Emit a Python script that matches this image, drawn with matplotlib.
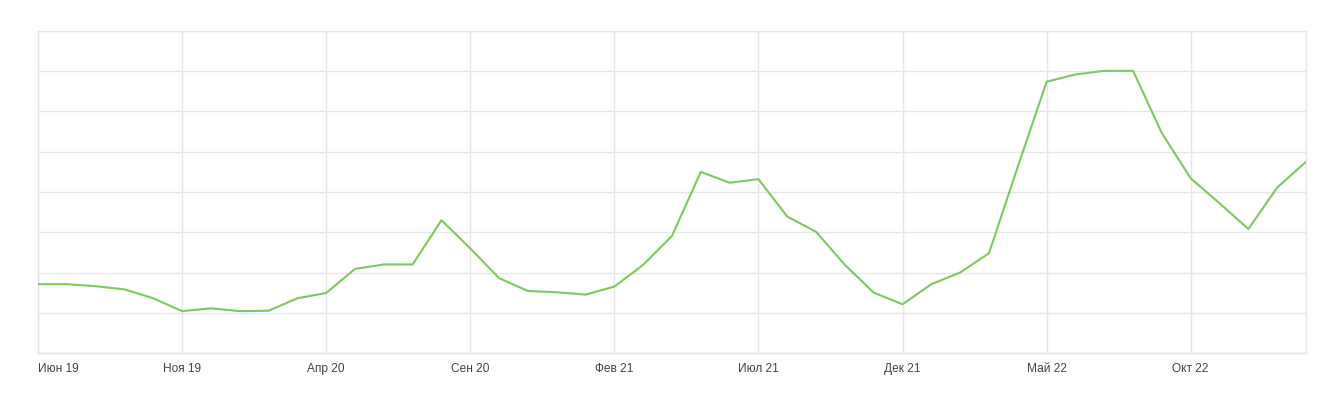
import matplotlib
matplotlib.use("Agg")
import matplotlib.pyplot as plt
import numpy as np

# monthly values, Jun 2019 .. Feb 2023 (y axis has no labels, units arbitrary)
months = ["Июн 19", "Июл 19", "Авг 19", "Сен 19", "Окт 19", "Ноя 19", "Дек 19",
          "Янв 20", "Фев 20", "Мар 20", "Апр 20", "Май 20", "Июн 20", "Июл 20",
          "Авг 20", "Сен 20", "Окт 20", "Ноя 20", "Дек 20", "Янв 21", "Фев 21",
          "Мар 21", "Апр 21", "Май 21", "Июн 21", "Июл 21", "Авг 21", "Сен 21",
          "Окт 21", "Ноя 21", "Дек 21", "Янв 22", "Фев 22", "Мар 22", "Апр 22",
          "Май 22", "Июн 22", "Июл 22", "Авг 22", "Сен 22", "Окт 22", "Ноя 22",
          "Дек 22", "Янв 23", "Фев 23"]
values = [17.1, 17.1, 16.6, 15.8, 13.6, 10.4, 11.1, 10.4, 10.5, 13.6,
          14.9, 20.9, 22.0, 22.0, 33.0, 26.0, 18.6, 15.4, 15.1, 14.5,
          16.5, 21.9, 29.1, 45.0, 42.3, 43.2, 33.9, 30.1, 21.9, 15.0,
          12.1, 17.1, 20.0, 24.8, 46.3, 67.4, 69.2, 70.1, 70.1, 54.6,
          43.4, 37.2, 30.8, 41.1, 47.5]
tick_step = 5

fig = plt.figure(figsize=(13.4, 4.07), dpi=100)
ax = fig.add_axes([38 / 1340, 54 / 407, 1268 / 1340, 322 / 407])

x = np.arange(len(values))
ax.plot(x, values, color="#7cc95c", lw=1.5, zorder=3)

ax.set_xlim(0, len(values) - 1)
ax.set_ylim(0, 80)
ax.set_yticks(np.arange(0, 81, 10))
ax.set_yticklabels([])
ticks = x[::tick_step]
ax.set_xticks(ticks)
ax.set_xticklabels([months[i] for i in ticks], fontsize=8.6,
                   family="Liberation Sans", color="#444444", va="baseline")
ax.get_xticklabels()[0].set_horizontalalignment("left")
ax.tick_params(axis="x", length=0, pad=13.5)
ax.tick_params(axis="y", length=0)
ax.grid(True, color="#e6e6e6", lw=1.0, zorder=0)
for s in ax.spines.values():
    s.set_color("#e6e6e6")
    s.set_linewidth(1.0)

fig.savefig("out.png", dpi=100)
